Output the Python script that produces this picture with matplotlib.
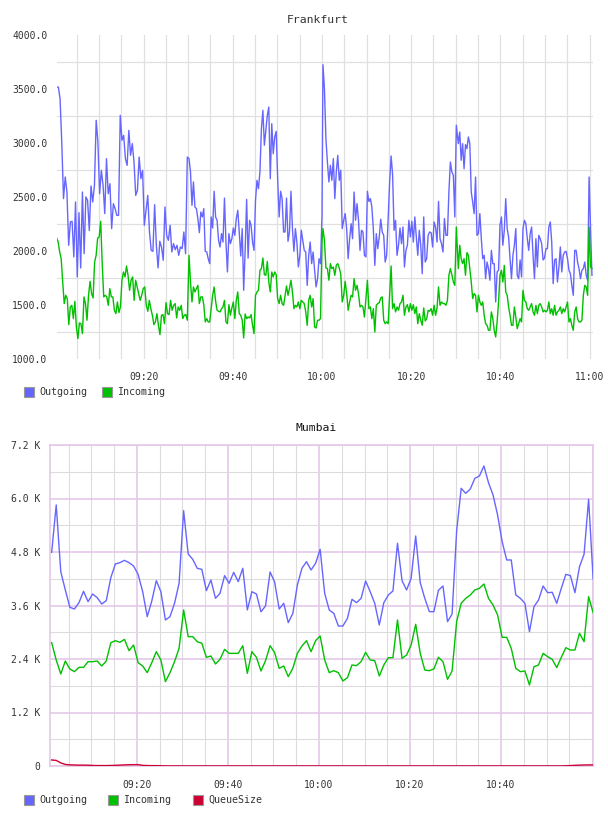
import numpy as np
import matplotlib
matplotlib.use("Agg")
import matplotlib.pyplot as plt
import matplotlib.dates as mdates
from matplotlib.ticker import FixedLocator, FuncFormatter, NullFormatter
from matplotlib.patches import Rectangle
from datetime import datetime, timedelta

# ---------------- data ----------------
DAY = "2024-01-01 "

# Frankfurt: four half-hour segments (start, end) and readings per segment
fra_spans = [("09:00:30", "09:29:48"), ("09:30:11", "10:00:00"),
             ("10:00:13", "10:30:07"), ("10:30:34", "11:00:32")]

fra_out_a = [3518, 3518, 3410, 3000, 2485, 2685, 2546, 2053, 2269, 2275, 1945, 2454, 1760, 2355, 1843,
             2546, 1975, 2500, 2469, 2190, 2602, 2454, 2608, 3210, 3010, 2530, 2747, 2608, 2346, 2855,
             2530, 2623, 2207, 2438, 2392, 2330, 2330, 3256, 3025, 3071, 2855, 2793, 3117, 2886, 2994,
             2824, 2515, 2562, 2870, 2670, 2747, 2238, 2377, 2515, 2176, 2006, 1997, 2429, 2053, 1843,
             2090, 2037, 1914, 2408, 2145, 2099, 2238, 1991, 2068, 2012, 2053, 1960, 2037, 2022, 2176,
             1975, 2870]
fra_out_b = [2855, 2732, 2423, 2639, 2408, 2392, 2300, 2170, 2361, 2315, 2392, 1997, 1991, 1929, 1883,
             2315, 2213, 2553, 2315, 2284, 2099, 2037, 2161, 2083, 2490, 2083, 1806, 2161, 2068, 2114,
             2213, 2145, 2300, 2377, 2176, 1954, 2207, 1636, 2006, 2478, 1935, 2284, 2238, 2083, 2006,
             2469, 2654, 2577, 2732, 3133, 3303, 2979, 3117, 3256, 3333, 2670, 3179, 2901, 3056, 3108,
             2670, 2315, 2553, 2485, 2176, 2176, 2490, 2090, 2176, 2553, 2207, 1997, 2207, 2083, 1852,
             1960, 2192, 2099, 2006, 1991, 1682, 1960, 2083, 1883, 1991, 1821, 1667, 1744, 1929, 1883,
             2330]
fra_out_c = [3725, 3503, 3040, 2824, 2639, 2793, 2654, 2855, 2485, 2732, 2886, 2654, 2747, 2207, 2284,
             2346, 2207, 1929, 2114, 2253, 2114, 2546, 2284, 2438, 2284, 2006, 2192, 2176, 1960, 1945,
             2553, 2459, 2485, 2408, 2207, 1867, 2161, 2022, 2130, 2294, 2176, 2145, 1898, 1960, 2300,
             2639, 2880, 2707, 2192, 2284, 1960, 2053, 2213, 2068, 2222, 1852, 2006, 2053, 2284, 2130,
             2275, 2083, 2315, 2130, 1960, 2192, 2053, 1790, 2315, 1898, 1929, 2145, 2176, 2170, 2037,
             2269, 2222, 2083, 2459, 2114, 2068, 1991, 2300, 2145, 2145, 2546, 2824, 2732, 2701, 2315,
             3164]
fra_out_d = [2994, 3102, 2840, 2994, 2762, 2985, 2948, 3056, 2994, 2546, 2454, 2346, 2685, 2145, 2161,
             2346, 2114, 1929, 1960, 1744, 1898, 1837, 1729, 2006, 1883, 1883, 1528, 1806, 1821, 2238,
             2315, 2053, 2192, 2485, 2207, 2130, 1929, 1744, 1960, 2053, 2207, 1775, 1744, 1917, 1760,
             2207, 2284, 2253, 2114, 2006, 2161, 2222, 1960, 1744, 2114, 1852, 2145, 2114, 2068, 1917,
             1935, 2022, 2022, 2222, 2269, 2083, 1698, 1917, 1929, 1713, 1852, 2037, 1806, 1960, 1991,
             1997, 1929, 1821, 1790, 1682, 1590, 2006, 2006, 1898, 1837, 1744, 1821, 1837, 1898, 1775,
             1729, 2685, 2207, 1775]

fra_in_a = [2120, 2083, 1991, 1929, 1713, 1513, 1590, 1559, 1318, 1482, 1497, 1374, 1534, 1296, 1189,
            1334, 1327, 1235, 1575, 1513, 1359, 1590, 1719, 1605, 1565, 1898, 1960, 2120, 2130, 2275,
            1883, 1575, 1590, 1575, 1497, 1652, 1575, 1575, 1451, 1420, 1528, 1430, 1482, 1729, 1806,
            1760, 1861, 1775, 1636, 1729, 1760, 1543, 1729, 1667, 1605, 1543, 1590, 1652, 1667, 1497,
            1442, 1543, 1466, 1405, 1318, 1343, 1420, 1312, 1226, 1405, 1411, 1327, 1522, 1420, 1411,
            1543, 1451, 1497, 1513, 1380, 1482, 1451, 1497, 1374, 1405, 1411, 1359]
fra_in_b = [1960, 1713, 1528, 1667, 1621, 1652, 1682, 1513, 1575, 1575, 1503, 1343, 1374, 1343, 1343,
            1466, 1590, 1667, 1534, 1451, 1442, 1436, 1466, 1482, 1543, 1343, 1327, 1503, 1405, 1473,
            1528, 1374, 1543, 1621, 1420, 1405, 1359, 1195, 1417, 1374, 1389, 1380, 1411, 1312, 1235,
            1590, 1621, 1636, 1821, 1837, 1935, 1781, 1775, 1904, 1713, 1621, 1806, 1760, 1806, 1781,
            1559, 1513, 1590, 1513, 1497, 1590, 1676, 1590, 1652, 1729, 1621, 1466, 1497, 1482, 1528,
            1466, 1543, 1528, 1513, 1436, 1312, 1543, 1590, 1482, 1559, 1296, 1287, 1359, 1359, 1374,
            2083]
fra_in_c = [2207, 2099, 1843, 1837, 1729, 1883, 1837, 1852, 1775, 1867, 1883, 1843, 1790, 1528, 1590,
            1719, 1605, 1451, 1528, 1590, 1575, 1744, 1636, 1682, 1605, 1482, 1497, 1482, 1389, 1565,
            1729, 1466, 1482, 1374, 1466, 1250, 1497, 1513, 1522, 1565, 1575, 1359, 1327, 1343, 1327,
            1590, 1861, 1466, 1513, 1436, 1482, 1451, 1513, 1528, 1590, 1405, 1482, 1503, 1436, 1513,
            1451, 1503, 1420, 1482, 1327, 1420, 1359, 1312, 1473, 1352, 1374, 1451, 1442, 1466, 1405,
            1497, 1405, 1473, 1667, 1497, 1528, 1513, 1513, 1497, 1543, 1775, 1837, 1781, 1713, 1682,
            2222]
fra_in_d = [1837, 2053, 1929, 1883, 1929, 1775, 1985, 1960, 1837, 1713, 1559, 1605, 1590, 1436, 1590,
            1528, 1497, 1528, 1405, 1327, 1312, 1266, 1266, 1436, 1374, 1266, 1204, 1343, 1528, 1775,
            1821, 1713, 1867, 1621, 1590, 1482, 1405, 1312, 1312, 1482, 1389, 1281, 1327, 1374, 1343,
            1636, 1543, 1528, 1466, 1451, 1482, 1513, 1436, 1405, 1497, 1420, 1497, 1513, 1482, 1436,
            1451, 1436, 1451, 1528, 1420, 1466, 1405, 1497, 1405, 1436, 1451, 1482, 1420, 1466, 1436,
            1482, 1528, 1343, 1374, 1312, 1266, 1436, 1482, 1374, 1343, 1343, 1359, 1590, 1682, 1667,
            1590, 2222, 1852, 1837]

# Mumbai: one sample per minute from 09:01:15
mum_start = "09:01:15"
mum_out = [4793, 5855, 4359, 3948, 3559, 3522, 3664, 3918, 3686, 3858, 3776, 3634, 3709, 4225, 4531,
           4561, 4613, 4561, 4486, 4299, 3910, 3350, 3700, 4157, 3910, 3275, 3350, 3649, 4097, 5727,
           4755, 4636, 4434, 4411, 3933, 4172, 3761, 3873, 4270, 4097, 4344, 4135, 4434, 3500, 3910,
           3858, 3460, 3589, 4352, 4127, 3521, 3649, 3215, 3424, 4060, 4434, 4583, 4396,
           4546, 4860, 3873, 3499, 3424, 3140, 3140, 3312, 3739, 3664, 3761, 4150, 3910, 3649, 3163,
           3664, 3836, 3926, 4995, 4157, 3948, 4210, 5159, 4112, 3761, 3462, 3462, 3941, 4038, 3237,
           3410, 5271, 6228, 6116, 6213, 6453, 6505, 6729, 6355, 6079, 5630, 5032, 4621, 4621, 3836,
           3761, 3649, 3013, 3574, 3724, 4038, 3888, 3896, 3649, 3985, 4299, 4270, 3888, 4471, 4748,
           5982, 4195]
mum_in = [2766, 2378, 2064, 2355, 2176, 2116, 2213, 2213, 2340, 2340, 2355, 2243, 2355, 2766, 2811,
          2774, 2841, 2587, 2714, 2318, 2243, 2094, 2318, 2565, 2378, 1892, 2094, 2340, 2639, 3499,
          2901, 2901, 2789, 2752, 2438, 2467, 2288, 2393, 2617, 2527, 2527, 2527, 2699, 2079, 2565,
          2438, 2131, 2363, 2699, 2542, 2191, 2243, 2004, 2191, 2527, 2692, 2811, 2565,
          2811, 2916, 2378, 2094, 2138, 2094, 1907, 1981, 2266, 2251, 2340, 2550, 2378, 2363, 2019,
          2266, 2430, 2430, 3275, 2415, 2490, 2714, 3178, 2527, 2153, 2138, 2176, 2438, 2340, 1944,
          2131, 3238, 3649, 3761, 3836, 3948, 3985, 4082, 3761, 3611, 3387, 2886, 2886, 2639, 2191,
          2116, 2131, 1817, 2228, 2266, 2527, 2452, 2393, 2206, 2438, 2654, 2602, 2602, 2976, 2789,
          3798, 3439]
mum_queue = [135, 125, 70, 35, 25, 22, 20, 20, 18, 12, 10, 10, 10, 12, 15, 20, 25, 28, 30, 30,
             15, 10, 8, 8, 5, 3, 2, 2, 2, 2, 2, 2, 2, 2, 2, 2, 2, 2, 2, 2,
             2, 2, 2, 2, 2, 2, 2, 2, 2, 2, 2, 2, 2, 2, 2, 2, 2, 2, 2, 2,
             2, 2, 2, 2, 2, 2, 2, 2, 2, 2, 2, 2, 2, 2, 2, 2, 2, 2, 2, 2,
             2, 2, 2, 2, 2, 2, 2, 2, 2, 2, 2, 2, 2, 2, 2, 2, 2, 2, 2, 2,
             2, 2, 2, 2, 2, 2, 2, 2, 2, 2, 2, 2, 2, 5, 10, 15, 20, 22, 25, 25]

fra_yticks = [1000, 1500, 2000, 2500, 3000, 3500, 4000]
fra_ygrid = [1250, 1750, 2250, 2750, 3250, 3750]
mum_yticks = [0, 1200, 2400, 3600, 4800, 6000, 7200]
mum_yminor = [600, 1800, 3000, 4200, 5400, 6600]
mum_ylabels = ["0", "1.2 K", "2.4 K", "3.6 K", "4.8 K", "6.0 K", "7.2 K"]
xtick_labels = ["09:20", "09:40", "10:00", "10:20", "10:40", "11:00"]

C_OUT = "#6666ff"
C_IN = "#00c000"
C_Q = "#cc0033"

# ---------------- helpers ----------------
def t(s):
    return mdates.date2num(datetime.strptime(DAY + s, "%Y-%m-%d %H:%M:%S"))

def seg_series(spans, segs):
    xs, ys = [], []
    for (a, b), vals in zip(spans, segs):
        xs.append(np.linspace(t(a), t(b), len(vals)))
        ys.append(np.asarray(vals, float))
    return np.concatenate(xs), np.concatenate(ys)

W, H = 608, 816
fig = plt.figure(figsize=(W / 100, H / 100), dpi=100)
MONO = "DejaVu Sans Mono"
TXT = "#333333"

def frac_rect(l, t_, r, b):
    return [l / W, 1 - b / H, (r - l) / W, (b - t_) / H]

# ---------------- Frankfurt ----------------
ax1 = fig.add_axes(frac_rect(57, 35, 593, 359))
x_o, y_o = seg_series(fra_spans, [fra_out_a, fra_out_b, fra_out_c, fra_out_d])
x_i, y_i = seg_series(fra_spans, [fra_in_a, fra_in_b, fra_in_c, fra_in_d])
ax1.plot(x_o, y_o, color=C_OUT, lw=1.0, zorder=3)
ax1.plot(x_i, y_i, color=C_IN, lw=1.0, zorder=4)
ax1.set_xlim(t("09:00:35"), t("11:00:46"))
ax1.set_ylim(1000, 4000)
for s in ax1.spines.values():
    s.set_visible(False)
ax1.yaxis.set_major_locator(FixedLocator(fra_yticks))
ax1.yaxis.set_minor_locator(FixedLocator(fra_ygrid))
ax1.yaxis.set_major_formatter(FuncFormatter(lambda v, p: f"{v:.1f}"))
ax1.xaxis.set_major_locator(FixedLocator([t(s + ":00") for s in xtick_labels]))
ax1.xaxis.set_major_formatter(FuncFormatter(lambda v, p: mdates.num2date(v).strftime("%H:%M")))
ax1.xaxis.set_minor_locator(FixedLocator([t("09:05:00") + k * 5 / 1440 for k in range(24)]))
ax1.tick_params(which="both", length=0)
ax1.tick_params(axis="y", pad=7, labelsize=7, labelcolor=TXT)
ax1.tick_params(axis="x", pad=9, labelsize=7, labelcolor=TXT)
ax1.grid(False)
ax1.grid(True, which="minor", axis="both", color="#e0e0e0", lw=0.9)
ax1.grid(True, which="major", axis="x", color="#e0e0e0", lw=0.9)
ax1.set_axisbelow(True)
for lab in ax1.get_xticklabels() + ax1.get_yticklabels():
    lab.set_family(MONO)
fig.text(318 / W, 1 - 20 / H, "Frankfurt", ha="center", va="center",
         family=MONO, fontsize=8.2, color=TXT)

# ---------------- Mumbai ----------------
ax2 = fig.add_axes(frac_rect(50, 445, 593, 766))
mx = t(mum_start) + np.arange(len(mum_out)) / 1440.0
ax2.plot(mx, mum_out, color=C_OUT, lw=1.0, zorder=3)
ax2.plot(mx, mum_in, color=C_IN, lw=1.0, zorder=4)
ax2.plot(mx, mum_queue, color=C_Q, lw=1.0, zorder=5)
ax2.set_xlim(t("09:00:53"), t("11:00:13"))
ax2.set_ylim(0, 7200)
PINK = "#e4c8e8"
for s in ax2.spines.values():
    s.set_color(PINK)
    s.set_linewidth(1.2)
ax2.yaxis.set_major_locator(FixedLocator(mum_yticks))
ax2.yaxis.set_minor_locator(FixedLocator(mum_yminor))
ax2.yaxis.set_major_formatter(FuncFormatter(lambda v, p: mum_ylabels[mum_yticks.index(int(round(v)))]
                                            if int(round(v)) in mum_yticks else ""))
ax2.xaxis.set_major_locator(FixedLocator([t(s + ":00") for s in xtick_labels[:-1]]))
ax2.xaxis.set_major_formatter(FuncFormatter(lambda v, p: mdates.num2date(v).strftime("%H:%M")))
ax2.xaxis.set_minor_locator(FixedLocator([t("09:05:00") + k * 5 / 1440 for k in range(24)]))
ax2.tick_params(which="both", length=0)
ax2.tick_params(axis="y", pad=7, labelsize=7, labelcolor=TXT)
ax2.tick_params(axis="x", pad=10, labelsize=7, labelcolor=TXT)
ax2.grid(True, which="minor", axis="both", color="#dcdcdc", lw=0.8)
ax2.grid(True, which="major", axis="both", color=PINK, lw=1.2)
ax2.set_axisbelow(True)
for lab in ax2.get_xticklabels() + ax2.get_yticklabels():
    lab.set_family(MONO)
fig.text(316 / W, 1 - 428 / H, "Mumbai", ha="center", va="center",
         family=MONO, fontsize=8.2, color="#111111")

# ---------------- legends ----------------
def legend_item(x, y, color, label):
    fig.add_artist(Rectangle((x / W, 1 - (y + 5) / H), 10 / W, 10 / H,
                             transform=fig.transFigure, facecolor=color,
                             edgecolor="#999999", lw=0.8))
    fig.text((x + 15) / W, 1 - y / H, label, ha="left", va="center",
             family=MONO, fontsize=7.2, color=TXT)

legend_item(24, 392, C_OUT, "Outgoing")
legend_item(102, 392, C_IN, "Incoming")
legend_item(24, 800, C_OUT, "Outgoing")
legend_item(108, 800, C_IN, "Incoming")
legend_item(193, 800, C_Q, "QueueSize")

fig.savefig("out.png", dpi=100)
